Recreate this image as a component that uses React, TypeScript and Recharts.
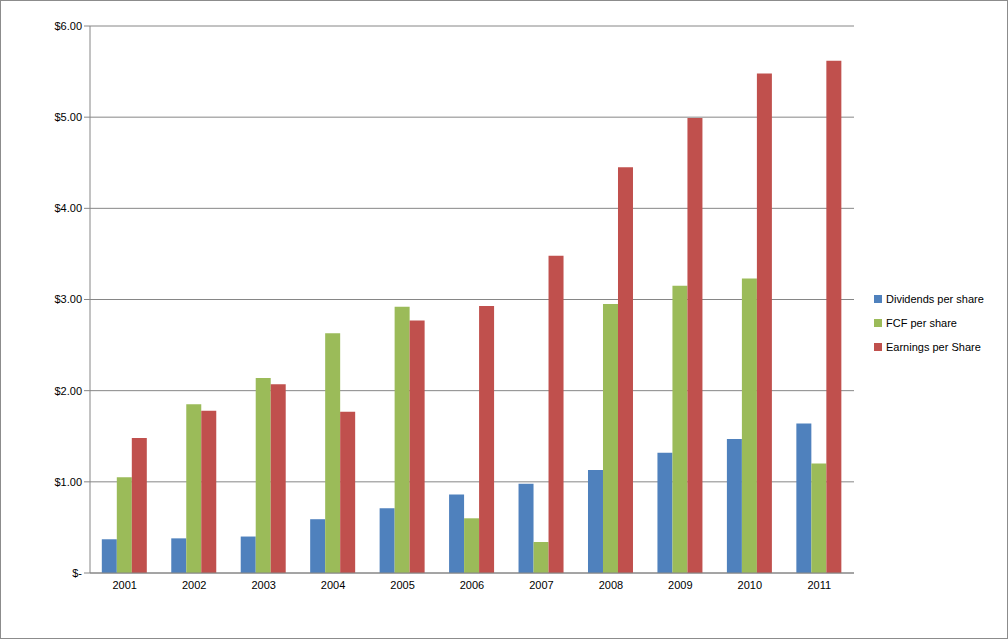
import React from "react";
import { BarChart, Bar, XAxis, YAxis, CartesianGrid } from "recharts";

const years = ["2001","2002","2003","2004","2005","2006","2007","2008","2009","2010","2011"];
const dividends = [0.37,0.38,0.40,0.59,0.71,0.86,0.98,1.13,1.32,1.47,1.64];
const fcf = [1.05,1.85,2.14,2.63,2.92,0.60,0.34,2.95,3.15,3.23,1.20];
const eps = [1.48,1.78,2.07,1.77,2.77,2.93,3.48,4.45,4.99,5.48,5.62];
const yTicks = [0,1,2,3,4,5,6];
const series = [
  { key: "div", name: "Dividends per share", color: "#4F81BD" },
  { key: "fcf", name: "FCF per share", color: "#9BBB59" },
  { key: "eps", name: "Earnings per Share", color: "#C0504D" },
];

const data = years.map((y, i) => ({ year: y, div: dividends[i], fcf: fcf[i], eps: eps[i] }));

const fmt = (v: number) => (v === 0 ? "$-" : `$${v.toFixed(2)}`);

export default function App() {
  return (
    <div style={{ position: "absolute", left: 0, top: 0, width: 1006, height: 637, border: "1px solid #8c8c8c", background: "#fff", fontFamily: "Liberation Sans, Arial, sans-serif" }}>
      <BarChart width={1006} height={637} data={data} margin={{ top: 25, right: 153, left: 0, bottom: 35 }} barCategoryGap="17%" barGap={0}>
        <CartesianGrid vertical={false} stroke="#868686" />
        <XAxis dataKey="year" height={30} tick={{ fill: "#000", fontSize: 11 }} stroke="#868686" tickLine={false} />
        <YAxis width={89} domain={[0, 6]} ticks={yTicks} tickFormatter={fmt} tick={{ fill: "#000", fontSize: 11 }} stroke="#868686" />
        {series.map((s) => (
          <Bar key={s.key} dataKey={s.key} name={s.name} fill={s.color} isAnimationActive={false} />
        ))}
      </BarChart>
      <div style={{ position: "absolute", left: 873, top: 286, fontSize: 11, color: "#000" }}>
        {series.map((s) => (
          <div key={s.key} style={{ display: "flex", alignItems: "center", height: 24 }}>
            <span style={{ width: 8, height: 8, background: s.color, marginRight: 4, display: "inline-block" }} />
            {s.name}
          </div>
        ))}
      </div>
    </div>
  );
}
